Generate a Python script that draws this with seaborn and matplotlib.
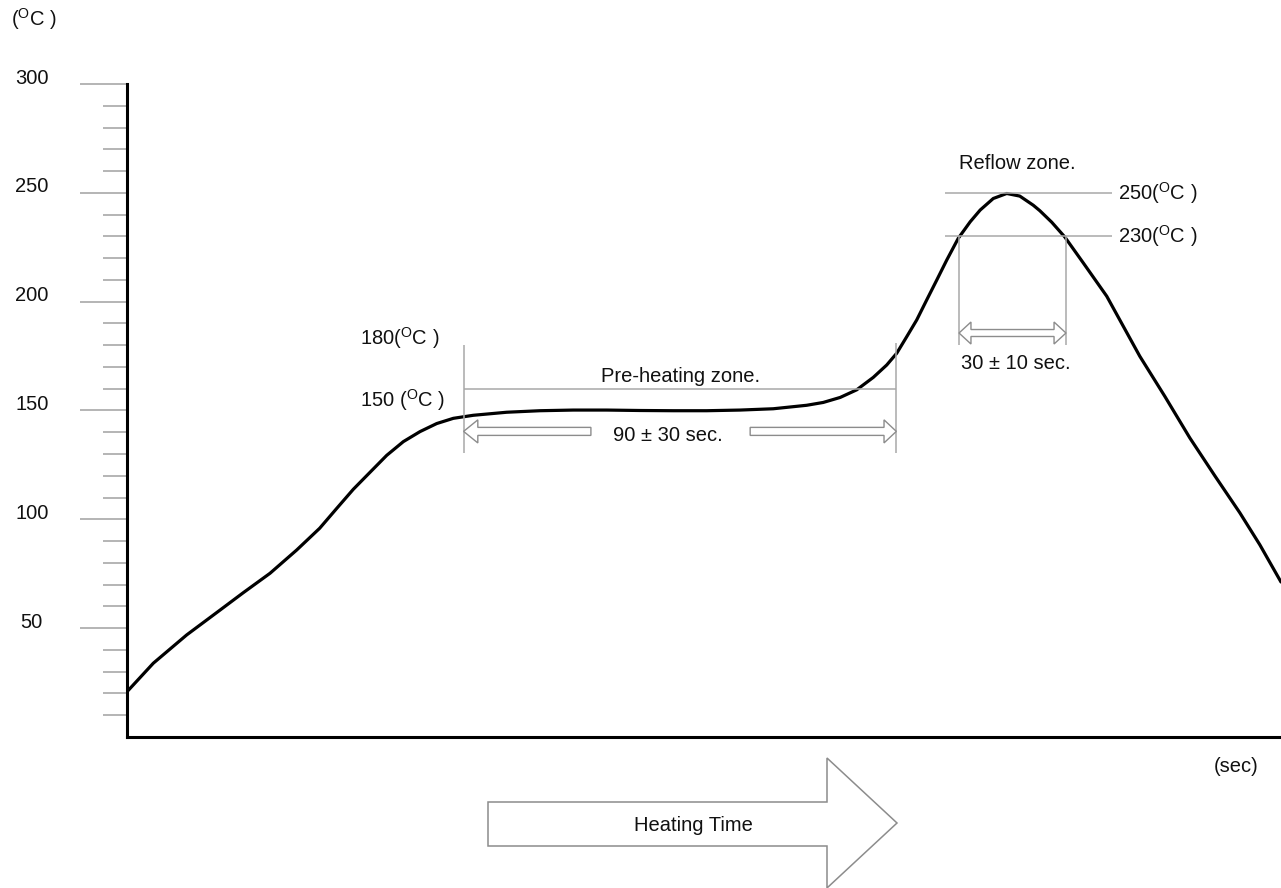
import numpy as np
import pandas as pd
import matplotlib
matplotlib.use("Agg")
import matplotlib.pyplot as plt
import matplotlib.transforms as mtransforms
from matplotlib.patches import Polygon
import seaborn as sns

# Reflow soldering temperature profile (time in s, temperature in deg C)
time_s = [0.0, 6.84, 15.52, 24.18, 30.23, 37.17, 44.11, 50.09, 54.51, 58.83,
          63.17, 67.52, 71.84, 76.17, 80.51, 84.83, 90.02, 98.71, 107.36, 116.02,
          124.7, 133.36, 142.0, 150.7, 159.36, 168.0, 176.7, 181.0, 185.4, 189.7,
          194.0, 197.5, 200.1, 202.7, 205.3, 207.9, 210.5, 213.1, 216.1, 219.2,
          221.8, 225.2, 228.7, 232.1, 235.6, 237.3, 240.4, 243.8, 248.6, 254.7,
          259.0, 263.3, 269.8, 276.3, 282.8, 289.3, 294.5, 300.0]
temp_c = [20.8, 33.9, 46.9, 58.3, 66.3, 75.2, 85.9, 95.9, 105.0, 113.8,
          121.6, 129.4, 135.7, 140.3, 144.0, 146.4, 147.8, 149.2, 149.9, 150.2,
          150.2, 150.0, 149.9, 149.9, 150.2, 150.8, 152.4, 153.7, 156.0, 159.5,
          165.2, 170.9, 176.3, 183.9, 191.6, 200.8, 209.9, 219.1, 229.1, 236.7,
          242.1, 247.4, 249.7, 248.5, 244.3, 241.8, 236.5, 229.7, 217.8, 202.5,
          188.7, 174.9, 156.5, 137.4, 120.0, 103.0, 88.3, 71.2]

y_major = [50, 100, 150, 200, 250, 300]
y_major_labels = ["50", "100", "150", "200", "250", "300"]
y_minor = [v for v in range(10, 300, 10) if v % 50]

preheat_start, preheat_end, preheat_level = 87.5, 200.0, 160
reflow_start, reflow_end = 216.3, 244.1
reflow_peak, reflow_min = 250, 230

sns.set_theme(style="white")
plt.rcParams["font.family"] = ["Liberation Sans", "DejaVu Sans"]
plt.rcParams["mathtext.fontset"] = "custom"
plt.rcParams["mathtext.rm"] = "Liberation Sans"
plt.rcParams["mathtext.it"] = "Liberation Sans:italic"
plt.rcParams["mathtext.bf"] = "Liberation Sans:bold"

W, H = 1281, 888
fig = plt.figure(figsize=(W / 100, H / 100), dpi=100)
ax = fig.add_axes([127 / W, (H - 737) / H, (W - 127) / W, (737 - 84) / H])

GUIDE = "#a8a8a8"
FS = 14.5
DEG = r"($^{\mathrm{O}}$C )"

df = pd.DataFrame({"time": time_s, "temp": temp_c})
sns.lineplot(data=df, x="time", y="temp", ax=ax, color="black", lw=2.3)
for ln in ax.get_lines():
    ln.set_solid_joinstyle("round")

ax.set_xlim(0, 300)
ax.set_ylim(0, 300)
ax.set_xlabel("")
ax.set_ylabel("")
ax.set_xticks([])

for side in ("top", "right"):
    ax.spines[side].set_visible(False)
for side in ("left", "bottom"):
    ax.spines[side].set_color("black")
    ax.spines[side].set_linewidth(2.2)

ax.set_yticks(y_major)
ax.set_yticklabels(y_major_labels)
ax.set_yticks(y_minor, minor=True)
ax.tick_params(axis="y", which="major", left=True, length=34, width=1.1,
               color="#a0a0a0", pad=34.5, labelsize=FS, labelcolor="#111111")
ax.tick_params(axis="y", which="minor", left=True, length=17, width=1.1,
               color="#a0a0a0")
shift = mtransforms.ScaledTranslation(0, 8 / 100, fig.dpi_scale_trans)
for lab in ax.get_yticklabels():
    lab.set_horizontalalignment("center")
    lab.set_transform(lab.get_transform() + shift)

guide_kw = dict(color=GUIDE, lw=1.1, solid_capstyle="butt")

# Pre-heating zone guides
ax.plot([preheat_start, preheat_start], [130.5, 180], **guide_kw)
ax.plot([preheat_end, preheat_end], [130.5, 181], **guide_kw)
ax.plot([preheat_start, preheat_end], [preheat_level, preheat_level], **guide_kw)

# Reflow zone guides
ax.plot([212.6, 256.1], [reflow_peak, reflow_peak], **guide_kw)
ax.plot([212.6, 256.1], [reflow_min, reflow_min], **guide_kw)
ax.plot([reflow_start, reflow_start], [180, reflow_min], **guide_kw)
ax.plot([reflow_end, reflow_end], [180, reflow_min], **guide_kw)


def hollow_arrow(x_tail, x_tip, y, shaft_h, head_h, head_len, double=False):
    d = np.sign(x_tip - x_tail)
    xb = x_tip - d * head_len
    if double:
        xa = x_tail + d * head_len
        pts = [(x_tail, y), (xa, y - head_h), (xa, y - shaft_h), (xb, y - shaft_h),
               (xb, y - head_h), (x_tip, y), (xb, y + head_h), (xb, y + shaft_h),
               (xa, y + shaft_h), (xa, y + head_h)]
    else:
        pts = [(x_tail, y - shaft_h), (xb, y - shaft_h), (xb, y - head_h), (x_tip, y),
               (xb, y + head_h), (xb, y + shaft_h), (x_tail, y + shaft_h)]
    ax.add_patch(Polygon(pts, closed=True, facecolor="white", edgecolor="#8c8c8c",
                         lw=1.0, joinstyle="miter", zorder=3))


hollow_arrow(120.6, preheat_start, 140.4, 1.84, 5.3, 3.7)
hollow_arrow(162.0, preheat_end, 140.4, 1.84, 5.3, 3.2)
hollow_arrow(reflow_start, reflow_end, 185.6, 1.6, 5.05, 3.1, double=True)

txt = dict(fontsize=FS, color="#111111")
ax.text(60.6, 183.3, "180" + DEG, ha="left", va="center", **txt)
ax.text(60.6, 154.8, "150 " + DEG, ha="left", va="center", **txt)
ax.text(144.0, 165.8, "Pre-heating zone.", ha="center", va="center", **txt)
ax.text(140.6, 138.7, "90 \u00b1 30 sec.", ha="center", va="center", **txt)
ax.text(231.4, 263.7, "Reflow zone.", ha="center", va="center", **txt)
ax.text(257.6, reflow_peak, "250" + DEG, ha="left", va="center", **txt)
ax.text(257.6, reflow_min, "230" + DEG, ha="left", va="center", **txt)
ax.text(231.1, 171.8, "30 \u00b1 10 sec.", ha="center", va="center", **txt)

# Figure-level elements in pixel coordinates measured from the top-left corner
px = mtransforms.Affine2D().scale(1 / W, -1 / H).translate(0, 1) + fig.transFigure
fig.text(11, 19, DEG, transform=px, ha="left", va="center", **txt)
fig.text(1236, 766, "(sec)", transform=px, ha="center", va="center", **txt)

big_arrow = [(488, 802), (827, 802), (827, 758), (897, 823), (827, 888),
             (827, 846), (488, 846)]
fig.add_artist(Polygon(big_arrow, closed=True, transform=px, facecolor="white",
                       edgecolor="#8c8c8c", lw=1.1, joinstyle="miter"))
fig.text(693, 825, "Heating Time", transform=px, ha="center", va="center", **txt)

fig.savefig("out.png", dpi=100, facecolor="white")
